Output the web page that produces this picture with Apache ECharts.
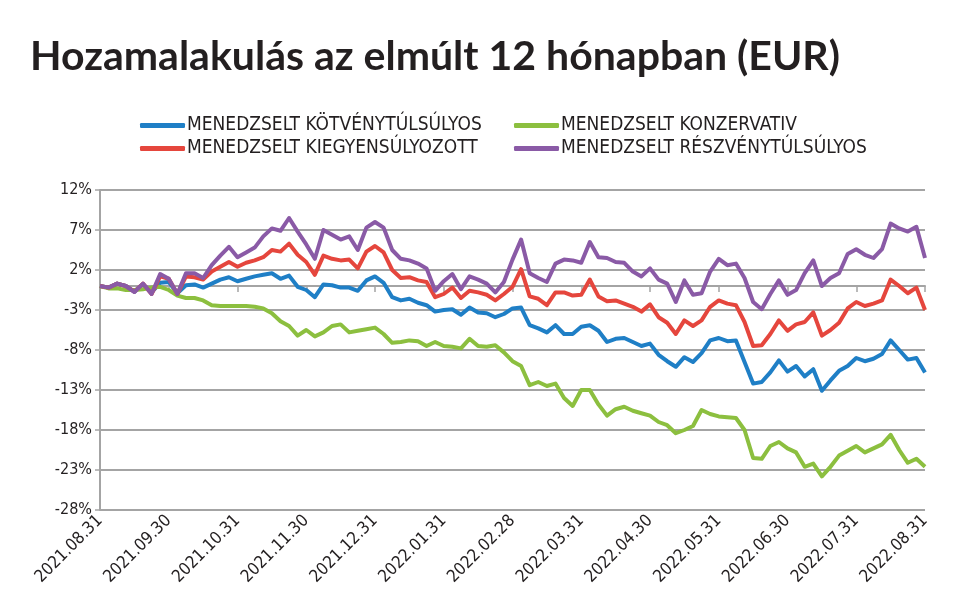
<!DOCTYPE html>
<html>
<head>
<meta charset="utf-8">
<script src="https://cdn.jsdelivr.net/npm/echarts@6/dist/echarts.min.js"></script>
<style>
	html, body { margin: 0; padding: 0; background: #fff; }
	#main { width: 980px; height: 609px; }
</style>
</head>
<body>
<div id="main"></div>
<script>
// honapvegi cimkek az x tengelyen
var monthLabels = ['2021.08.31', '2021.09.30', '2021.10.31', '2021.11.30', '2021.12.31', '2022.01.31',
	'2022.02.28', '2022.03.31', '2022.04.30', '2022.05.31', '2022.06.30', '2022.07.31', '2022.08.31'];
var yTicks = [-28, -23, -18, -13, -8, -3, 2, 7, 12];
// 8 meres / honap
var stepsPerMonth = 8;

var kotveny = [0, -0.2, 0.3, 0, -0.7, 0.2, -0.8, 0.4, 0.5, -0.9, 0.1, 0.2, -0.2, 0.3, 0.8, 1.1, 0.6, 0.9, 1.2, 1.4,
	1.6, 0.9, 1.3, -0.1, -0.5, -1.4, 0.2, 0.1, -0.2, -0.2, -0.6, 0.7, 1.2, 0.4, -1.4, -1.8, -1.6, -2.1, -2.4, -3.2,
	-3.0, -2.9, -3.6, -2.7, -3.3, -3.4, -3.9, -3.5, -2.8, -2.7, -4.9, -5.3, -5.8, -4.9, -6.0, -6.0, -5.1, -4.9, -5.6, -7.0,
	-6.6, -6.5, -7.0, -7.5, -7.2, -8.6, -9.4, -10.1, -8.9, -9.5, -8.4, -6.8, -6.5, -6.9, -6.8, -9.5, -12.2, -12.0, -10.8, -9.3,
	-10.7, -10.0, -11.3, -10.4, -13.1, -11.8, -10.6, -10.0, -9.0, -9.4, -9.1, -8.5, -6.8, -8.0, -9.2, -9.0, -10.8];

var konzervativ = [0, -0.3, -0.3, -0.5, -0.5, -0.4, -0.2, -0.1, -0.5, -1.2, -1.5, -1.5, -1.8, -2.4, -2.5, -2.5, -2.5, -2.5, -2.6, -2.8,
	-3.4, -4.4, -5.0, -6.2, -5.5, -6.3, -5.8, -5.0, -4.8, -5.8, -5.6, -5.4, -5.2, -6.0, -7.1, -7.0, -6.8, -6.9, -7.5, -7.0,
	-7.5, -7.6, -7.8, -6.6, -7.5, -7.6, -7.4, -8.3, -9.4, -10.0, -12.4, -12.0, -12.5, -12.2, -14.0, -15.0, -13.0, -13.0, -14.8, -16.2,
	-15.4, -15.1, -15.6, -15.9, -16.2, -17.0, -17.4, -18.4, -18.0, -17.5, -15.5, -16.0, -16.3, -16.4, -16.5, -18.0, -21.5, -21.6, -20.0, -19.5,
	-20.3, -20.8, -22.6, -22.2, -23.8, -22.6, -21.2, -20.6, -20.0, -20.8, -20.3, -19.8, -18.6, -20.5, -22.1, -21.6, -22.6];

var kiegyensulyozott = [0, -0.2, 0.3, 0, -0.7, 0.3, -1.0, 1.2, 0.9, -1.0, 1.2, 1.1, 0.8, 1.8, 2.4, 3.0, 2.4, 2.9, 3.2, 3.6,
	4.5, 4.3, 5.3, 3.9, 3.0, 1.4, 3.8, 3.4, 3.2, 3.3, 2.2, 4.3, 5.0, 4.2, 2.0, 1.0, 1.1, 0.7, 0.5, -1.4,
	-1.0, -0.2, -1.5, -0.6, -0.8, -1.1, -1.8, -1.0, -0.1, 2.1, -1.3, -1.6, -2.4, -0.8, -0.8, -1.2, -1.1, 0.8, -1.3, -1.9,
	-1.8, -2.2, -2.6, -3.2, -2.3, -3.9, -4.6, -6.0, -4.3, -5.0, -4.3, -2.6, -1.8, -2.2, -2.4, -4.5, -7.5, -7.4, -6.0, -4.3,
	-5.6, -4.8, -4.5, -3.3, -6.2, -5.5, -4.6, -2.8, -2.0, -2.5, -2.2, -1.8, 0.8, 0.0, -0.9, -0.2, -3.0];

var reszveny = [0, -0.2, 0.3, 0, -0.75, 0.3, -1.0, 1.5, 0.9, -1.0, 1.6, 1.6, 1.0, 2.6, 3.8, 4.9, 3.6, 4.2, 4.8, 6.2,
	7.2, 6.9, 8.5, 6.8, 5.2, 3.4, 7.0, 6.4, 5.8, 6.2, 4.5, 7.3, 8.0, 7.3, 4.5, 3.4, 3.2, 2.8, 2.2, -0.6,
	0.6, 1.5, -0.4, 1.2, 0.8, 0.3, -0.8, 0.5, 3.3, 5.8, 1.6, 1.0, 0.5, 2.8, 3.3, 3.2, 2.9, 5.5, 3.6, 3.5,
	3.0, 2.9, 1.8, 1.2, 2.2, 0.8, 0.3, -2.0, 0.7, -1.1, -0.9, 1.8, 3.4, 2.6, 2.8, 1.0, -2.0, -2.9, -1.0, 0.7,
	-1.1, -0.5, 1.6, 3.2, 0.0, 1.0, 1.6, 4.0, 4.6, 3.9, 3.5, 4.6, 7.8, 7.2, 6.8, 7.4, 3.5];

var names = ['MENEDZSELT KÖTVÉNYTÚLSÚLYOS', 'MENEDZSELT KONZERVATIV', 'MENEDZSELT KIEGYENSÚLYOZOTT', 'MENEDZSELT RÉSZVÉNYTÚLSÚLYOS'];
var colors = ['#1f7fc6', '#8cbf3f', '#e5463d', '#8a5aa6'];

var narrow = "'Liberation Sans Narrow', 'DejaVu Sans Condensed', sans-serif";
var gridColor = '#a4a4a4';

function toPoints(arr) {
	return arr.map(function(v, i) {
		return [i / stepsPerMonth, v];
	});
}

var myChart = echarts.init(document.getElementById('main'));

var legendPos = [[140, 116], [514, 116], [140, 139], [514, 139]];

option = {
	animation: false,
	title: {
		text: 'Hozamalakulás az elmúlt 12 hónapban (EUR)',
		left: 25,
		top: 31,
		textStyle: {
			fontFamily: 'Lato',
			fontWeight: 'bold',
			fontSize: 41,
			color: '#231f20'
		}
	},
	legend: legendPos.map(function(p, i) {
		return {
			data: [names[i]],
			left: p[0],
			top: p[1],
			padding: 0,
			icon: 'roundRect',
			itemWidth: 45,
			itemHeight: 5,
			itemGap: 4,
			textStyle: {
				fontFamily: narrow,
				fontSize: 19,
				color: '#231f20',
				padding: [0, 0, 0, -3]
			}
		};
	}),
	grid: {
		left: 100,
		right: 55,
		top: 190,
		bottom: 99,
		containLabel: false
	},
	xAxis: [{
		type: 'value',
		min: 0,
		max: 12,
		interval: 1,
		axisLine: { show: false, onZero: false },
		axisTick: { show: false },
		splitLine: { show: false },
		axisLabel: {
			rotate: 45,
			margin: 8,
			fontFamily: narrow,
			fontSize: 17,
			color: '#231f20',
			formatter: function(v) {
				return monthLabels[v];
			}
		}
	}, {
		// 0%-os vonal a honapvegi osztasokkal (12% alatt 12*8px)
		type: 'value',
		min: 0,
		max: 12,
		interval: 1,
		position: 'bottom',
		offset: -224,
		axisLine: { show: true, onZero: false, lineStyle: { color: gridColor, width: 2 } },
		axisTick: { show: true, length: 6, lineStyle: { color: gridColor, width: 1.5 } },
		axisLabel: { show: false },
		splitLine: { show: false }
	}],
	yAxis: {
		type: 'value',
		min: -28,
		max: 12,
		axisLine: { show: true, lineStyle: { color: gridColor, width: 2 } },
		axisTick: { show: true, length: 5, customValues: yTicks, lineStyle: { color: gridColor, width: 1.5 } },
		axisLabel: {
			customValues: yTicks,
			margin: 8,
			fontFamily: narrow,
			fontSize: 16,
			color: '#231f20',
			formatter: function(v) {
				return v + '%';
			}
		},
		splitLine: { show: true, lineStyle: { color: gridColor, width: 2 } }
	},
	series: [kotveny, konzervativ, kiegyensulyozott, reszveny].map(function(arr, i) {
		return {
			name: names[i],
			type: 'line',
			xAxisIndex: 0,
			data: toPoints(arr),
			showSymbol: false,
			color: colors[i],
			lineStyle: { width: 4, color: colors[i], join: 'round' }
		};
	})
};

myChart.setOption(option, true);
</script>
</body>
</html>
